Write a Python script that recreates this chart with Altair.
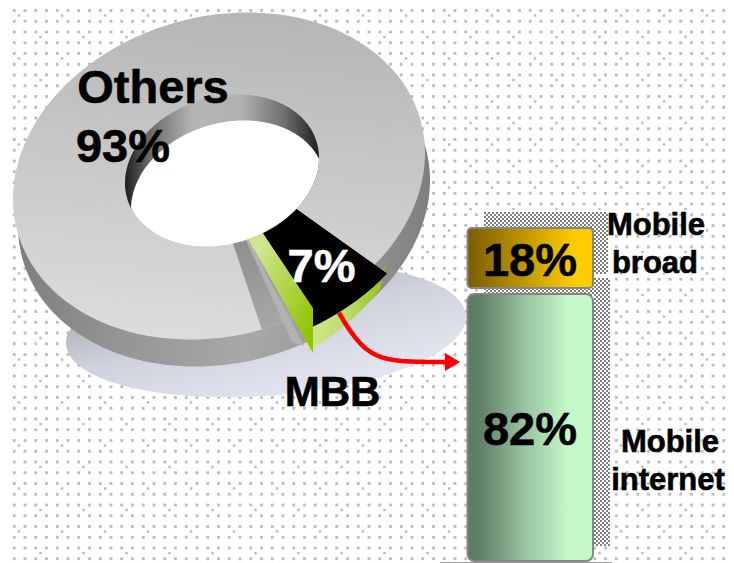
import altair as alt
import numpy as np
import pandas as pd

# ---- values ----
pie_labels = ["Others", "MBB"]
pie_values = [93, 7]
bar_labels = ["Mobile broad", "Mobile internet"]
bar_values = [18, 82]

W, H = 718, 555
SX = alt.Scale(domain=[8, 8 + W], range=[0, W])
SY = alt.Scale(domain=[8, 8 + H], range=[0, H])
FONT = "Liberation Sans"


def grad(stops, x1=0, y1=0, x2=1, y2=0):
    return alt.LinearGradient(
        gradient="linear", x1=x1, y1=y1, x2=x2, y2=y2,
        stops=[alt.GradientStop(color=c, offset=o) for o, c in stops],
    )


def poly(pts, fill):
    pts = np.asarray(pts, dtype=float)
    df = pd.DataFrame({"x": pts[:, 0], "y": pts[:, 1], "i": np.arange(len(pts))})
    return alt.Chart(df).mark_line(fill=fill, strokeOpacity=0, clip=False).encode(
        x=alt.X("x:Q", scale=SX, axis=None),
        y=alt.Y("y:Q", scale=SY, axis=None),
        order=alt.Order("i:Q"),
    )


def ell(cx, cy, a, b, c, t=None, s=1.0):
    """Tilted ellipse: x = a cos t, y = b cos t + c sin t (angles in degrees)."""
    t = np.radians(np.arange(0, 360, 2.0) if t is None else np.asarray(t, dtype=float))
    return np.column_stack([cx + s * a * np.cos(t), cy + s * (b * np.cos(t) + c * np.sin(t))])


def inside(p, cx, cy, a, b, c):
    u = (p[:, 0] - cx) / a
    v = ((p[:, 1] - cy) - b * u) / c
    return u * u + v * v <= 1


def text(s, x, y, size, color="#000000"):
    df = pd.DataFrame({"x": [x], "y": [y], "t": [s]})
    return alt.Chart(df).mark_text(
        font=FONT, fontWeight="bold", fontSize=size, color=color,
        stroke=color, strokeWidth=0.6,
        align="center", baseline="alphabetic",
    ).encode(
        x=alt.X("x:Q", scale=SX, axis=None),
        y=alt.Y("y:Q", scale=SY, axis=None),
        text="t:N",
    )


# ---- paper texture ----
dx = np.arange(14.25, 726, 10.75)
dy = np.arange(10.5, 563, 10.75)
gx, gy = np.meshgrid(dx, dy)
dots = pd.DataFrame({"x": gx.ravel(), "y": gy.ravel()})
extra = []
for k, yy in enumerate(np.arange(15.5, 563, 21.5)):
    for xx in np.arange(19 if k % 2 == 0 else 40.5, 726, 43):
        extra.append((xx, yy))
extra = pd.DataFrame(extra, columns=["x", "y"])
dot_l = alt.Chart(dots).mark_square(size=8, color="#bcbcbc", opacity=1, strokeOpacity=0).encode(
    x=alt.X("x:Q", scale=SX, axis=None), y=alt.Y("y:Q", scale=SY, axis=None))
dot_e = alt.Chart(extra).mark_square(size=6, color="#bcbcbc", opacity=1, strokeOpacity=0).encode(
    x=alt.X("x:Q", scale=SX, axis=None), y=alt.Y("y:Q", scale=SY, axis=None))

# ---- ring geometry ----
OUT = (219, 176, 206, -22.8, 161.9)
RIM = (222, 170.5, 97, -12.5, 75)
DEPTH = (5, 27)
HOLE_SHIFT = (6, 26)

layers = [dot_l, dot_e]

# drop shadow
layers.append(poly(ell(266, 330, 200, -13, 66),
                   grad([(0, "#a6a8ae"), (0.45, "#cfd2dc"), (1, "#e7eaf3")], 0.1, 0.2, 0.7, 1)))
# side wall
layers.append(poly(ell(OUT[0] + DEPTH[0], OUT[1] + DEPTH[1], *OUT[2:]),
                   grad([(0, "#7e7e7e"), (0.25, "#959595"), (0.55, "#a8a8a8"), (0.8, "#989898"), (1, "#7e7e7e")])))
# top surface
layers.append(poly(ell(*OUT), grad([(0, "#b6b6b6"), (1, "#dcdcdc")], 0.55, 0, 0.45, 1)))
# inner wall
layers.append(poly(ell(*RIM), grad([(0, "#1e1e1e"), (0.12, "#666666"), (0.35, "#b6b6b6"),
                                    (0.6, "#b0b0b0"), (0.82, "#707070"), (1, "#1e1e1e")])))
# see-through hole = rim intersected with the shifted rim
SH = (RIM[0] + HOLE_SHIFT[0], RIM[1] + HOLE_SHIFT[1], RIM[2], RIM[3], RIM[4])
p1 = ell(*RIM, t=np.arange(0, 360, 1.0))
p2 = ell(*SH, t=np.arange(0, 360, 1.0))
pts = np.vstack([p1[inside(p1, *SH)], p2[inside(p2, *RIM)]])
ctr = pts.mean(axis=0)
pts = pts[np.argsort(np.arctan2(pts[:, 1] - ctr[1], pts[:, 0] - ctr[0]))]
layers.append(poly(pts, "#ffffff"))

# the wedge angles follow the MBB share
t_start = 65.0
t_end = t_start - pie_values[1] / sum(pie_values) * 360
arc_t = np.linspace(t_start, t_end, 24)

# gap left in the ring by the pulled-out wedge
gap_out = ell(*OUT, t=np.linspace(78, 46, 20))
gap_in = ell(*RIM, t=np.linspace(t_end, 83.5, 24))
layers.append(poly(np.vstack([gap_out, gap_in]),
                   grad([(0, "#868686"), (1, "#a8a8a8")], 0, 0, 0.3, 1)))
# lighter sliver next to the green face
layers.append(poly([(246, 240), (249, 240), (304, 346), (292, 342)], "#b2b2b2"))

rim_arc = ell(*RIM, t=arc_t)
outer_arc = ell(222.5, 184, 206, -22.8, 161.9, t=arc_t, s=1.04)

# green underside
drop = np.column_stack([np.full(24, -7.0), np.linspace(26, 16, 24)])
lower = outer_arc + drop
layers.append(poly(np.vstack([outer_arc[:-1], [(385, 262)], lower[::-1]]),
                   grad([(0, "#d2e78f"), (0.5, "#bfdc6c"), (1, "#93c40f")])))
# green left face
layers.append(poly([(248, 239), (263, 233), (313, 308), (313, 353)],
                   grad([(0, "#d0e68e"), (1, "#8fc400")], 0.2, 0.1, 0.95, 0.85)))
# black top of the wedge
layers.append(poly(np.vstack([rim_arc, outer_arc[::-1], [(313, 308)]]), "#000000"))

# ---- checkered shadow behind the bars ----
layers.append(poly([(484, 212), (608, 212), (608, 273), (594, 273), (594, 296), (484, 296)], "#ffffff"))
layers.append(poly([(594, 277), (604, 277), (610, 281), (610, 540), (604, 545), (594, 545)], "#ffffff"))
cells = []
for i, xx in enumerate(np.arange(484, 610, 2)):
    for j, yy in enumerate(np.arange(212, 545, 2)):
        if (i + j) % 2:
            continue
        upper = yy < 273 and xx < 608
        strip = 273 <= yy < 296 and xx < 594
        right = 277 <= yy and 594 <= xx
        if upper or strip or right:
            cells.append((xx + 1, yy + 1))
cells = pd.DataFrame(cells, columns=["x", "y"])
layers.append(alt.Chart(cells).mark_square(size=4, color="#7f7f7f", opacity=1, strokeOpacity=0).encode(
    x=alt.X("x:Q", scale=SX, axis=None), y=alt.Y("y:Q", scale=SY, axis=None)))

# bottom line
layers.append(alt.Chart(pd.DataFrame({"x": [440], "x2": [612], "y": [562.5]})).mark_rule(
    color="#a0a0a0", strokeWidth=1).encode(
    x=alt.X("x:Q", scale=SX, axis=None), x2="x2:Q", y=alt.Y("y:Q", scale=SY, axis=None)))

# ---- stacked bar, drawn from the shares ----
BAR_Y = alt.Scale(domain=[0, 100], range=[561 - 8, 228 - 8])
low_v = bar_values[1]
bar_low = pd.DataFrame({"x": [467.5], "x2": [593], "a": [low_v], "b": [0]})
bar_up = pd.DataFrame({"x": [467.5], "x2": [593], "a": [low_v + bar_values[0]], "b": [low_v]})
bars = []
bars.append(alt.Chart(bar_low).mark_bar(
    fill=grad([(0, "#5c7a62"), (0.12, "#64826a"), (0.45, "#97c2a0"), (0.8, "#c4f8c8"), (1, "#c4f8c8")]),
    stroke="#868686", strokeWidth=2, cornerRadius=7, yOffset=6, clip=False).encode(
    x=alt.X("x:Q", scale=SX, axis=None), x2="x2:Q",
    y=alt.Y("a:Q", scale=BAR_Y, axis=None), y2="b:Q"))
bars.append(alt.Chart(bar_up).mark_bar(
    fill=grad([(0, "#7a5c00"), (0.4, "#b88f00"), (0.85, "#ffcc00"), (1, "#ffcc00")]),
    stroke="#868686", strokeWidth=2, cornerRadius=4, clip=False).encode(
    x=alt.X("x:Q", scale=SX, axis=None), x2="x2:Q",
    y=alt.Y("a:Q", scale=BAR_Y, axis=None), y2="b:Q"))

# ---- red arrow ----
u = np.linspace(0, 1, 30)[:, None]
P = [np.array(p, dtype=float) for p in [(339, 313), (368, 362), (378, 362), (447, 362)]]
curve = (1 - u) ** 3 * P[0] + 3 * (1 - u) ** 2 * u * P[1] + 3 * (1 - u) * u ** 2 * P[2] + u ** 3 * P[3]
cdf = pd.DataFrame({"x": curve[:, 0], "y": curve[:, 1], "i": np.arange(len(curve))})
arrow_line = alt.Chart(cdf).mark_line(color="#ff0000", strokeWidth=4.5).encode(
    x=alt.X("x:Q", scale=SX, axis=None), y=alt.Y("y:Q", scale=SY, axis=None), order=alt.Order("i:Q"))
arrow_head = poly([(445, 353), (460, 362), (445, 371)], "#ff0000")

# ---- texts ----
texts = [
    text(pie_labels[0], 153, 103, 47),
    text(f"{pie_values[0]}%", 123, 162, 47),
    text(f"{pie_values[1]}%", 321.5, 282, 47, "#ffffff"),
    text(pie_labels[1], 332.5, 406, 42),
    text(f"{bar_values[0]}%", 530, 276, 47),
    text(f"{bar_values[1]}%", 530, 445, 47),
    text("Mobile", 656, 235, 31),
    text("broad", 655, 273, 31),
    text("Mobile", 670, 452, 31),
    text("internet", 668, 490, 31),
]

chart = alt.layer(*layers, *bars, arrow_line, arrow_head, *texts).resolve_scale(
    x="shared", y="independent"
).properties(
    width=W, height=H, padding=0, autosize=alt.AutoSizeParams(type="none")
).configure_view(strokeOpacity=0)

chart.save("out.html", embed_options={"renderer": "svg", "actions": False})
